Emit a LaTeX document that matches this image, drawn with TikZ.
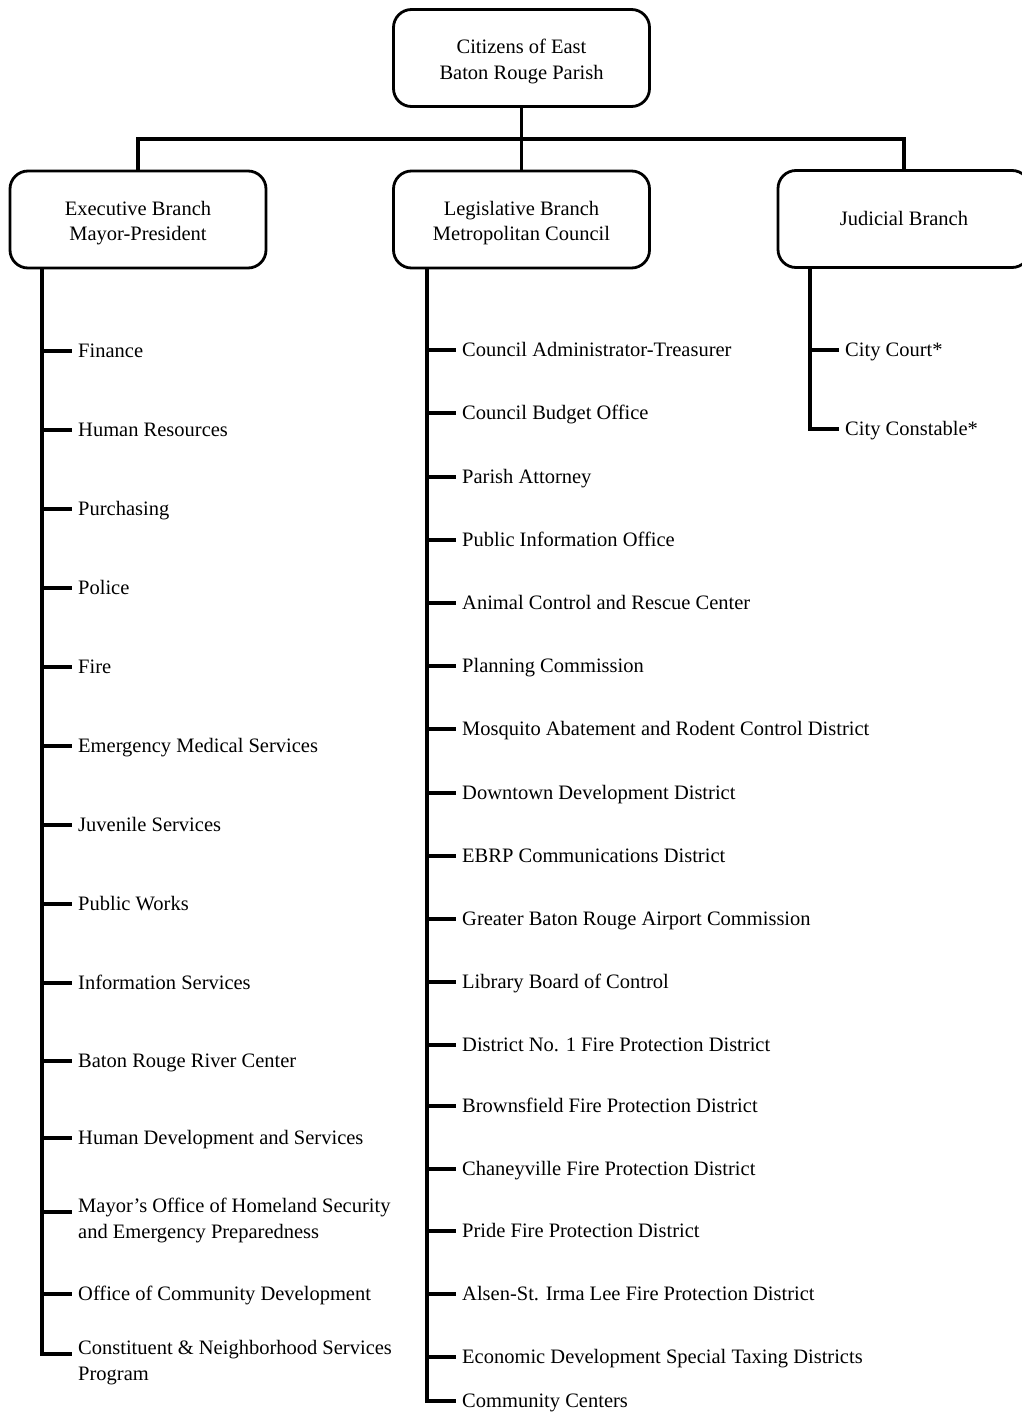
\documentclass[tikz,border=0pt]{standalone}
\usepackage{fontspec}
\setmainfont{Liberation Serif}

\begin{document}
\begin{tikzpicture}[
      x=1pt, y=-1pt,
      every node/.style={font=\fontsize{20.5}{26}\selectfont},
      branch/.style={draw, line width=2.8pt, rounded corners=18pt, align=center,
                     font=\fontsize{20.5}{25}\selectfont,
                     text height=46pt, text depth=4pt,
                     minimum width=256pt, minimum height=97pt},
      item/.style={anchor=west, inner xsep=6pt, inner ysep=0pt,
                   text height=14pt, text depth=1pt},
      item2/.style={anchor=north west, inner xsep=6pt, inner ysep=0pt, align=left},
      link/.style={line width=3.2pt},
    ]
    \useasboundingbox (0,0) rectangle (1021,1413);

    % top and branches
    \node[branch] (top)  at (521.5, 58)  {Citizens of East\\Baton Rouge Parish};
    \node[branch] (exec) at (138, 219.5) {Executive Branch\\Mayor-President};
    \node[branch] (leg)  at (521.5, 219.5) {Legislative Branch\\Metropolitan Council};
    \node[branch, minimum width=252pt, text height=14pt, text depth=1pt]
      (judi) at (904, 219) {Judicial Branch};
    \coordinate (bar) at (521.5, 139);
    \draw[link] (top) -- (leg);
    \draw[link] (exec) |- (bar) -| (judi);

    % executive branch
    \coordinate (ex) at (42, 268);
    \node[item] (fin)  at (72, 351)  {Finance};
    \node[item] (hr)   at (72, 430)  {Human Resources};
    \node[item] (pur)  at (72, 509)  {Purchasing};
    \node[item] (pol)  at (72, 588)  {Police};
    \node[item] (fire) at (72, 667)  {Fire};
    \node[item] (ems)  at (72, 746)  {Emergency Medical Services};
    \node[item] (juv)  at (72, 825)  {Juvenile Services};
    \node[item] (pw)   at (72, 904)  {Public Works};
    \node[item] (is)   at (72, 983)  {Information Services};
    \node[item] (rc)   at (72, 1061) {Baton Rouge River Center};
    \node[item] (hds)  at (72, 1138) {Human Development and Services};
    \node[item2] (mayor) at (72, 1198) {Mayor's Office of Homeland Security\\and Emergency Preparedness};
    \node[item] (ocd)  at (72, 1294) {Office of Community Development};
    \node[item2] (cons) at (72, 1340) {Constituent \& Neighborhood Services\\Program};
    \coordinate (mayt) at ([yshift=-14pt]mayor.north west);
    \coordinate (const) at ([yshift=-14pt]cons.north west);
    \draw[link] (ex) |- (const);
    \draw[link] (ex |- fin.west) -- (fin.west);
    \draw[link] (ex |- hr.west) -- (hr.west);
    \draw[link] (ex |- pur.west) -- (pur.west);
    \draw[link] (ex |- pol.west) -- (pol.west);
    \draw[link] (ex |- fire.west) -- (fire.west);
    \draw[link] (ex |- ems.west) -- (ems.west);
    \draw[link] (ex |- juv.west) -- (juv.west);
    \draw[link] (ex |- pw.west) -- (pw.west);
    \draw[link] (ex |- is.west) -- (is.west);
    \draw[link] (ex |- rc.west) -- (rc.west);
    \draw[link] (ex |- hds.west) -- (hds.west);
    \draw[link] (ex |- mayt) -- (mayt);
    \draw[link] (ex |- ocd.west) -- (ocd.west);

    % legislative branch
    \coordinate (lx) at (427, 268);
    \node[item] (cat)   at (456, 350)  {Council Administrator-Treasurer};
    \node[item] (cbo)   at (456, 413)  {Council Budget Office};
    \node[item] (pa)    at (456, 477)  {Parish Attorney};
    \node[item] (pio)   at (456, 540)  {Public Information Office};
    \node[item] (acr)   at (456, 603)  {Animal Control and Rescue Center};
    \node[item] (pc)    at (456, 666)  {Planning Commission};
    \node[item] (mos)   at (456, 729)  {Mosquito Abatement and Rodent Control District};
    \node[item] (ddd)   at (456, 793)  {Downtown Development District};
    \node[item] (ebrp)  at (456, 856)  {EBRP Communications District};
    \node[item] (air)   at (456, 919)  {Greater Baton Rouge Airport Commission};
    \node[item] (lib)   at (456, 982)  {Library Board of Control};
    \node[item] (dfp)   at (456, 1045) {District No. 1 Fire Protection District};
    \node[item] (bfp)   at (456, 1106) {Brownsfield Fire Protection District};
    \node[item] (cfp)   at (456, 1169) {Chaneyville Fire Protection District};
    \node[item] (pfp)   at (456, 1231) {Pride Fire Protection District};
    \node[item] (afp)   at (456, 1294) {Alsen-St. Irma Lee Fire Protection District};
    \node[item] (edt)   at (456, 1357) {Economic Development Special Taxing Districts};
    \node[item] (cc)    at (456, 1401) {Community Centers};
    \draw[link] (lx) |- (cc.west);
    \draw[link] (lx |- cat.west) -- (cat.west);
    \draw[link] (lx |- cbo.west) -- (cbo.west);
    \draw[link] (lx |- pa.west) -- (pa.west);
    \draw[link] (lx |- pio.west) -- (pio.west);
    \draw[link] (lx |- acr.west) -- (acr.west);
    \draw[link] (lx |- pc.west) -- (pc.west);
    \draw[link] (lx |- mos.west) -- (mos.west);
    \draw[link] (lx |- ddd.west) -- (ddd.west);
    \draw[link] (lx |- ebrp.west) -- (ebrp.west);
    \draw[link] (lx |- air.west) -- (air.west);
    \draw[link] (lx |- lib.west) -- (lib.west);
    \draw[link] (lx |- dfp.west) -- (dfp.west);
    \draw[link] (lx |- bfp.west) -- (bfp.west);
    \draw[link] (lx |- cfp.west) -- (cfp.west);
    \draw[link] (lx |- pfp.west) -- (pfp.west);
    \draw[link] (lx |- afp.west) -- (afp.west);
    \draw[link] (lx |- edt.west) -- (edt.west);

    % judicial branch
    \coordinate (jx) at (810, 267);
    \node[item] (court) at (839, 350) {City Court*};
    \node[item] (cons2) at (839, 429) {City Constable*};
    \draw[link] (jx) |- (cons2.west);
    \draw[link] (jx |- court.west) -- (court.west);
  \end{tikzpicture}
\end{document}
